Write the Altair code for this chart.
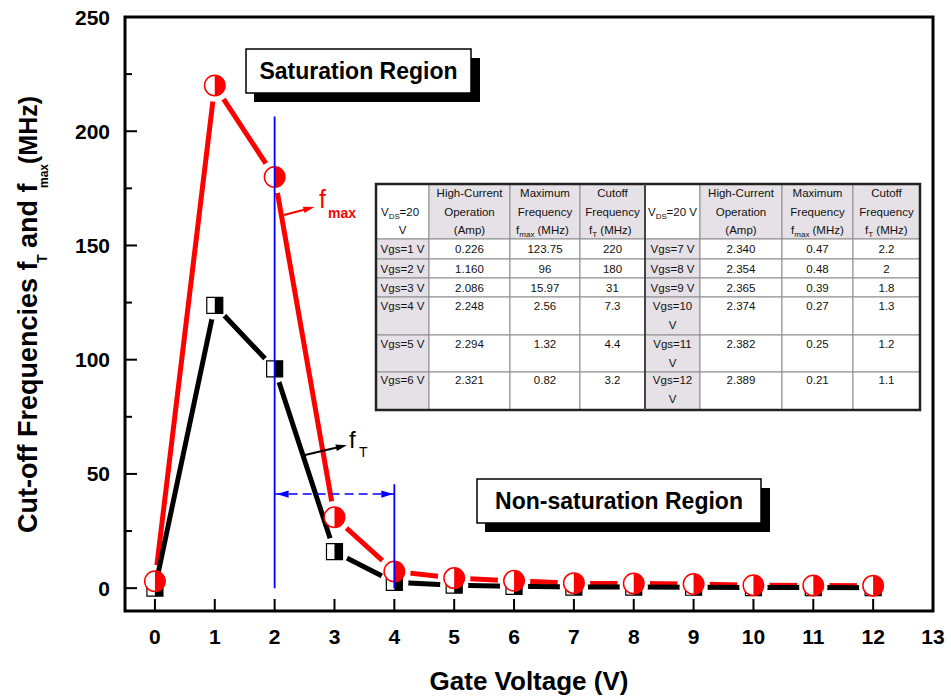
import altair as alt
import pandas as pd

# ---------------- data ----------------
gate_voltage = [0, 1, 2, 3, 4, 5, 6, 7, 8, 9, 10, 11, 12]
fmax_mhz = [3, 220, 180, 31, 7.3, 4.4, 3.2, 2.2, 2.0, 1.8, 1.3, 1.2, 1.1]
ft_mhz = [0, 123.75, 96, 15.97, 2.56, 1.32, 0.82, 0.47, 0.48, 0.39, 0.27, 0.25, 0.21]

x_tick_labels = list(range(0, 14))
y_tick_labels = [0, 50, 100, 150, 200, 250]
y_minor_ticks = [25, 75, 125, 175, 225]

tbl_left_rows = ["Vgs=1 V", "Vgs=2 V", "Vgs=3 V", "Vgs=4 V", "Vgs=5 V", "Vgs=6 V"]
tbl_left_current = ["0.226", "1.160", "2.086", "2.248", "2.294", "2.321"]
tbl_left_fmax = ["123.75", "96", "15.97", "2.56", "1.32", "0.82"]
tbl_left_ft = ["220", "180", "31", "7.3", "4.4", "3.2"]
tbl_right_rows = ["Vgs=7 V", "Vgs=8 V", "Vgs=9 V", "Vgs=10 V", "Vgs=11 V", "Vgs=12 V"]
tbl_right_current = ["2.340", "2.354", "2.365", "2.374", "2.382", "2.389"]
tbl_right_fmax = ["0.47", "0.48", "0.39", "0.27", "0.25", "0.21"]
tbl_right_ft = ["2.2", "2", "1.8", "1.3", "1.2", "1.1"]

# ---------------- layout ----------------
LEFT, TOP = 125, 17
W, H = 808, 594
FONT = "Liberation Sans"
ONE = pd.DataFrame({"a": [0]})


def sx(v):
    return v - LEFT


def sy(v):
    return v - TOP


xs = alt.Scale(domain=[-0.5, 13], nice=False, zero=False)
ys = alt.Scale(domain=[-10, 250], nice=False, zero=False)

df = pd.DataFrame({"v": gate_voltage, "fmax": fmax_mhz, "ft": ft_mhz})
base = alt.Chart(df)
X = alt.X("v:Q", scale=xs, axis=None)
YR = alt.Y("fmax:Q", scale=ys, axis=None)
YB = alt.Y("ft:Q", scale=ys, axis=None)

HALF_CIRCLE = "M0,-1A1,1,0,0,1,0,1Z"
HALF_SQUARE = "M0,-1L1,-1L1,1L0,1Z"

red_line = base.mark_line(color="red", strokeWidth=5).encode(x=X, y=YR)
red_halo = base.mark_point(shape="circle", filled=True, color="white", opacity=1, size=1060).encode(x=X, y=YR)
black_line = base.mark_line(color="black", strokeWidth=5).encode(x=X, y=YB)
black_halo = base.mark_point(shape="circle", filled=True, color="white", opacity=1, size=800).encode(x=X, y=YB)
black_sq = base.mark_point(shape="square", filled=True, fill="white", stroke="black", strokeWidth=1.2,
                           opacity=1, size=256).encode(x=X, y=YB)
black_half = base.mark_point(shape=HALF_SQUARE, filled=True, color="black", opacity=1, size=256,
                             strokeWidth=0).encode(x=X, y=YB)
red_circ = base.mark_point(shape="circle", filled=True, fill="white", stroke="red", strokeWidth=1.5,
                           opacity=1, size=420).encode(x=X, y=YR)
red_half = base.mark_point(shape=HALF_CIRCLE, filled=True, color="red", opacity=1, size=420,
                           strokeWidth=0).encode(x=X, y=YR)

# ticks (inside) and tick labels
ydf = pd.DataFrame({"t": y_tick_labels})
xdf = pd.DataFrame({"t": x_tick_labels})
ymaj = alt.Chart(ydf).mark_rule(color="black", strokeWidth=2).encode(
    y=alt.Y("t:Q", scale=ys, axis=None), x=alt.value(0), x2=alt.value(12))
ymin = alt.Chart(pd.DataFrame({"t": y_minor_ticks})).mark_rule(color="black", strokeWidth=2).encode(
    y=alt.Y("t:Q", scale=ys, axis=None), x=alt.value(0), x2=alt.value(7))
xmaj = alt.Chart(xdf).mark_rule(color="black", strokeWidth=2).encode(
    x=alt.X("t:Q", scale=xs, axis=None), y=alt.value(H), y2=alt.value(H - 12))
ylab = alt.Chart(ydf).mark_text(font=FONT, fontSize=21, fontWeight="bold", color="black", align="right",
                                baseline="alphabetic", dy=7.5).encode(
    y=alt.Y("t:Q", scale=ys, axis=None), x=alt.value(sx(110)), text="t:Q")
xlab = alt.Chart(xdf).mark_text(font=FONT, fontSize=21, fontWeight="bold", color="black", align="center",
                                baseline="alphabetic").encode(
    x=alt.X("t:Q", scale=xs, axis=None), y=alt.value(sy(644)), text="t:Q")

# blue region markers
BLUE = "#0000FF"
blue_v2 = alt.Chart(ONE).mark_rule(color=BLUE, strokeWidth=1.8).encode(
    x=alt.X(datum=2, scale=xs, axis=None), y=alt.Y(datum=0, scale=ys, axis=None), y2=alt.datum(206.5))
blue_v4 = alt.Chart(ONE).mark_rule(color=BLUE, strokeWidth=1.8).encode(
    x=alt.X(datum=4, scale=xs, axis=None), y=alt.Y(datum=0, scale=ys, axis=None), y2=alt.datum(45.5))
blue_dash = alt.Chart(ONE).mark_rule(color=BLUE, strokeWidth=1.6, strokeDash=[9, 5]).encode(
    x=alt.X(datum=2, scale=xs, axis=None), x2=alt.datum(4), y=alt.Y(datum=41.2, scale=ys, axis=None))
arrow_l = alt.Chart(ONE).mark_point(shape="M-1,0L1,-0.6L1,0.6Z", filled=True, color=BLUE, opacity=1,
                                    size=144, xOffset=8).encode(
    x=alt.X(datum=2, scale=xs, axis=None), y=alt.Y(datum=41.2, scale=ys, axis=None))
arrow_r = alt.Chart(ONE).mark_point(shape="M1,0L-1,-0.6L-1,0.6Z", filled=True, color=BLUE, opacity=1,
                                    size=144, xOffset=-7).encode(
    x=alt.X(datum=4, scale=xs, axis=None), y=alt.Y(datum=41.2, scale=ys, axis=None))

# label arrows
ARROW = "M1,0L-1,-0.6L-1,0.6Z"
fmax_arrow_line = alt.Chart(ONE).mark_rule(color="red", strokeWidth=2.2).encode(
    x=alt.value(sx(284)), y=alt.value(sy(215)), x2=alt.value(sx(306)), y2=alt.value(sy(209.3)))
fmax_arrow_head = alt.Chart(ONE).mark_point(shape=ARROW, filled=True, color="red", opacity=1, size=121,
                                            angle=345).encode(x=alt.value(sx(309)), y=alt.value(sy(208.5)))
ft_arrow_line = alt.Chart(ONE).mark_rule(color="black", strokeWidth=2.2).encode(
    x=alt.value(sx(305)), y=alt.value(sy(455)), x2=alt.value(sx(338)), y2=alt.value(sy(447.3)))
ft_arrow_head = alt.Chart(ONE).mark_point(shape=ARROW, filled=True, color="black", opacity=1, size=121,
                                          angle=347).encode(x=alt.value(sx(341.5)), y=alt.value(sy(446.5)))

series_labels = pd.DataFrame([
    dict(px=sx(319), py=sy(208), text="f", fs=25, col="red"),
    dict(px=sx(349), py=sy(448), text="f", fs=24, col="black"),
    dict(px=sx(359), py=sy(457), text="T", fs=14, col="black"),
])
series_text = alt.Chart(series_labels).mark_text(font=FONT, align="left", baseline="alphabetic").encode(
    x=alt.X("px:Q", scale=None, axis=None), y=alt.Y("py:Q", scale=None, axis=None),
    text="text:N", size=alt.Size("fs:Q", scale=None), color=alt.Color("col:N", scale=None))
max_text = alt.Chart(ONE).mark_text(font=FONT, align="left", baseline="alphabetic", fontWeight="bold",
                                    fontSize=14, color="red", text="max").encode(
    x=alt.value(sx(328)), y=alt.value(sy(218)))


# region boxes
def box(x1, y1, x2, y2, label, fs=23):
    shadow = alt.Chart(ONE).mark_rect(color="black").encode(
        x=alt.value(sx(x1 + 8)), x2=alt.value(sx(x2 + 9)), y=alt.value(sy(y1 + 9)), y2=alt.value(sy(y2 + 9)))
    face = alt.Chart(ONE).mark_rect(fill="white", stroke="black", strokeWidth=1.5).encode(
        x=alt.value(sx(x1)), x2=alt.value(sx(x2)), y=alt.value(sy(y1)), y2=alt.value(sy(y2)))
    txt = alt.Chart(ONE).mark_text(font=FONT, fontSize=fs, fontWeight="bold", color="black",
                                   align="center", baseline="middle", text=label).encode(
        x=alt.value(sx((x1 + x2) / 2)), y=alt.value(sy((y1 + y2) / 2 + 1)))
    return [shadow, face, txt]


sat_box = box(246, 49, 471, 93, "Saturation Region")
nonsat_box = box(477, 479, 761, 523, "Non-saturation Region")

# ---------------- table ----------------
cols_L = [376, 429, 510, 580, 645]
cols_R = [645, 700, 782, 853, 920]
rows_Y = [184, 239, 259, 278, 297, 335, 372, 410]
ROW_LINE1 = [249, 268.5, 287.5, 306, 344, 380]
SHADE = "#E6E1E6"
TFS = 11.5
TCOL = "#111111"

rects = []
for cols in (cols_L, cols_R):
    for ci in range(4):
        for ri in range(7):
            shaded = (ri == 0 and ci > 0) or (ri > 0 and ci == 0)
            rects.append(dict(x1=sx(cols[ci]), x2=sx(cols[ci + 1]), y1=sy(rows_Y[ri]), y2=sy(rows_Y[ri + 1]),
                              fill=SHADE if shaded else "white"))
tbl_cells = alt.Chart(pd.DataFrame(rects)).mark_rect(stroke="#8c8c8c", strokeWidth=1).encode(
    x=alt.X("x1:Q", scale=None, axis=None), x2="x2:Q",
    y=alt.Y("y1:Q", scale=None, axis=None), y2="y2:Q",
    fill=alt.Fill("fill:N", scale=None))
tbl_border = alt.Chart(ONE).mark_rect(fillOpacity=0, stroke="#222222", strokeWidth=2.5).encode(
    x=alt.value(sx(376)), x2=alt.value(sx(920)), y=alt.value(sy(184)), y2=alt.value(sy(410)))
tbl_sep = alt.Chart(ONE).mark_rule(color="#444444", strokeWidth=2).encode(
    x=alt.value(sx(645)), y=alt.value(sy(184)), y2=alt.value(sy(410)))

cells = []


def add_center(xc, yc, t):
    cells.append(dict(px=sx(xc), py=sy(yc + 4.1), text=t))


for cols, rws, cur, fm, ft in ((cols_L, tbl_left_rows, tbl_left_current, tbl_left_fmax, tbl_left_ft),
                               (cols_R, tbl_right_rows, tbl_right_current, tbl_right_fmax, tbl_right_ft)):
    cen = [(cols[i] + cols[i + 1]) / 2 for i in range(4)]
    add_center(cen[1], 193, "High-Current")
    add_center(cen[1], 212, "Operation")
    add_center(cen[1], 230, "(Amp)")
    add_center(cen[2], 193, "Maximum")
    add_center(cen[2], 212, "Frequency")
    add_center(cen[3], 193, "Cutoff")
    add_center(cen[3], 212, "Frequency")
    for i in range(6):
        y = ROW_LINE1[i]
        lab = rws[i]
        if len(lab) > 7:
            a, b = lab.rsplit(" ", 1)
            add_center(cen[0], y, a)
            add_center(cen[0], y + 18.5, b)
        else:
            add_center(cen[0], y, lab)
        add_center(cen[1], y, cur[i])
        add_center(cen[2], y, fm[i])
        add_center(cen[3], y, ft[i])
add_center((cols_L[0] + cols_L[1]) / 2, 230, "V")

tbl_text = alt.Chart(pd.DataFrame(cells)).mark_text(font=FONT, fontSize=TFS, color=TCOL, align="center",
                                                    baseline="alphabetic").encode(
    x=alt.X("px:Q", scale=None, axis=None), y=alt.Y("py:Q", scale=None, axis=None), text="text:N")

pieces = []


def add_piece(x, yc, t, sub=False):
    pieces.append(dict(px=sx(x), py=sy(yc + 4.1 + (2.6 if sub else 0)), text=t, fs=8 if sub else TFS))


for x0, rest in ((381, "=20"), (648, "=20 V")):
    add_piece(x0, 212, "V")
    add_piece(x0 + 7.7, 212, "DS", True)
    add_piece(x0 + 18.6, 212, rest)
for x0 in (516, 791):
    add_piece(x0, 230, "f")
    add_piece(x0 + 3.3, 230, "max", True)
    add_piece(x0 + 21.5, 230, "(MHz)")
for x0 in (589, 865):
    add_piece(x0, 230, "f")
    add_piece(x0 + 3.3, 230, "T", True)
    add_piece(x0 + 11.3, 230, "(MHz)")

tbl_pieces = alt.Chart(pd.DataFrame(pieces)).mark_text(font=FONT, color=TCOL, align="left",
                                                       baseline="alphabetic").encode(
    x=alt.X("px:Q", scale=None, axis=None), y=alt.Y("py:Q", scale=None, axis=None), text="text:N",
    size=alt.Size("fs:Q", scale=None))

# ---------------- axis titles ----------------
ytitle_df = pd.DataFrame([
    dict(px=sx(37), py=sy(533), text="Cut-off Frequencies f", fs=27),
    dict(px=sx(47), py=sy(263), text="T", fs=14),
    dict(px=sx(37), py=sy(248), text="and f", fs=27),
    dict(px=sx(48), py=sy(188), text="max", fs=12),
    dict(px=sx(37), py=sy(164), text="(MHz)", fs=25),
])
ytitle = alt.Chart(ytitle_df).mark_text(font=FONT, fontWeight="bold", color="black", align="left",
                                        baseline="alphabetic", angle=270).encode(
    x=alt.X("px:Q", scale=None, axis=None), y=alt.Y("py:Q", scale=None, axis=None), text="text:N",
    size=alt.Size("fs:Q", scale=None))
xtitle = alt.Chart(ONE).mark_text(font=FONT, fontWeight="bold", fontSize=26, color="black", align="center",
                                  baseline="alphabetic", text="Gate Voltage (V)").encode(
    x=alt.value(sx(529)), y=alt.value(sy(690)))

layers = [red_line, red_halo, black_line, black_halo, black_sq, black_half, red_circ, red_half,
          ymaj, ymin, xmaj, ylab, xlab,
          blue_v2, blue_v4, blue_dash, arrow_l, arrow_r,
          fmax_arrow_line, fmax_arrow_head, ft_arrow_line, ft_arrow_head, series_text, max_text,
          *sat_box, *nonsat_box,
          tbl_cells, tbl_border, tbl_sep, tbl_text, tbl_pieces,
          ytitle, xtitle]

chart = alt.layer(*layers).properties(
    width=W, height=H,
    autosize=alt.AutoSizeParams(type="none"),
    padding={"left": LEFT, "top": TOP, "right": 951 - LEFT - W, "bottom": 700 - TOP - H},
).configure(background="white").configure_view(stroke="black", strokeWidth=3)

chart.save("out.html", embed_options={"renderer": "svg", "actions": False})
